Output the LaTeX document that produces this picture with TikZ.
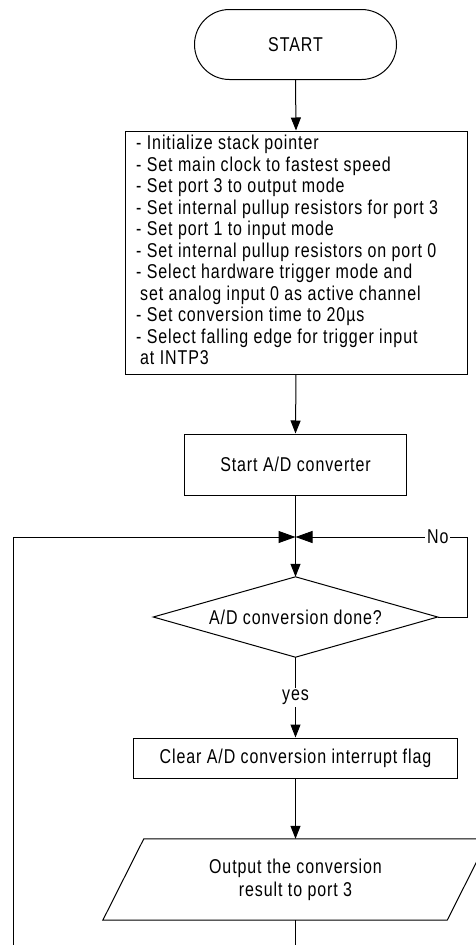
\documentclass[tikz,border=0pt]{standalone}
\usepackage{fontspec}
\setmainfont{Liberation Sans}[FakeStretch=0.8, LetterSpace=4.5]
\usetikzlibrary{arrows.meta}
\tikzset{
  box/.style={draw, line width=1pt, inner sep=0pt, align=center},
  conn/.style={line width=1pt, -{Triangle[length=13pt,width=10pt]}},
  jconn/.style={line width=1pt, -{Triangle[length=17pt,width=12pt]}},
  plain/.style={line width=1pt},
  lbl/.style={fill=white, inner sep=2pt},
}
\begin{document}
\begin{tikzpicture}[x=1pt, y=-1pt, font=\fontsize{20}{21.5}\selectfont]
\path[use as bounding box, clip] (0,0) rectangle (476,945);

\node[box, rounded corners=35pt, minimum width=202pt, minimum height=70pt] (start) at (295.5,44.5) {START};

\node[box, minimum width=342pt, minimum height=243pt] (init) at (296,252.5) {};
\node[anchor=west, inner sep=0pt, align=left] (inittext) at (136,250) {%
- Initialize stack pointer\\
- Set main clock to fastest speed\\
- Set port 3 to output mode\\
- Set internal pullup resistors for port 3\\
- Set port 1 to input mode\\
- Set internal pullup resistors on port 0\\
- Select hardware trigger mode and\\
\hspace*{4pt}set analog input 0 as active channel\\
- Set conversion time to 20µs\\
- Select falling edge for trigger input\\
\hspace*{4pt}at INTP3};

\node[box, minimum width=222pt, minimum height=61pt] (startad) at (295.5,464.5) {Start A/D converter};

\coordinate (j) at (295.5,537);

\node[minimum width=284pt, minimum height=80pt, inner sep=0pt] (dec) at (295.5,617) {A/D conversion done?};
\draw[plain] (dec.west) -- (dec.north) -- (dec.east) -- (dec.south) -- cycle;

\node[box, minimum width=324pt, minimum height=40pt] (clear) at (295.5,758) {Clear A/D conversion interrupt flag};

\node[minimum width=344pt, minimum height=81pt, inner sep=0pt, align=center] (out) at (295.5,879.5) {Output the conversion\\[1.5pt]result to port 3};
\draw[plain] ([xshift=-20.5pt]out.south west) -- ([xshift=-20.5pt]out.south east) -- ([xshift=20.5pt]out.north east) -- ([xshift=20.5pt]out.north west) -- cycle;

\coordinate (lb) at (13,945);
\coordinate (ob) at (295.5,945);

\draw[conn] (start.south) -- (init.north);
\draw[conn] (init.south) -- (startad.north);
\draw[conn] (startad.south) -- (dec.north);
\draw[jconn] (lb) |- (j);
\draw[jconn] (dec.east) -- ++(30,0) |- (j) node[lbl, pos=0.587] {No};
\draw[conn] (dec.south) -- (clear.north) node[lbl, pos=0.5] {yes};
\draw[conn] (clear.south) -- (out.north);
\draw[plain] (out.south) -- (ob);
\end{tikzpicture}
\end{document}
